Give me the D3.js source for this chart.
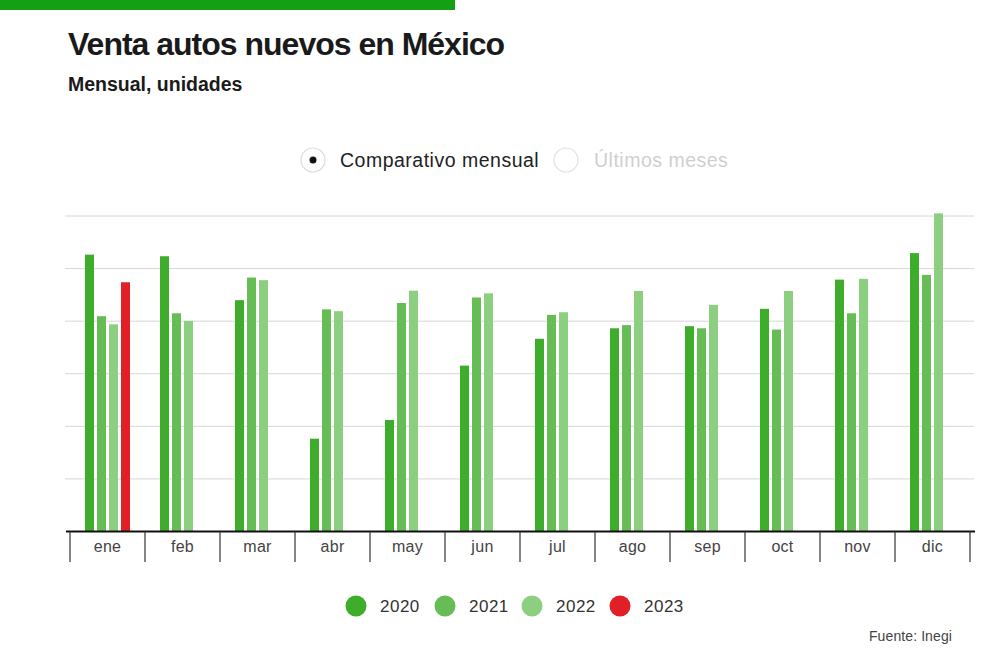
<!DOCTYPE html>
<html>
<head>
<meta charset="utf-8">
<script src="https://cdn.jsdelivr.net/npm/d3@7"></script>
<style>
  body { margin: 0; background: #fff; }
  svg { display: block; font-family: "Liberation Sans", Arial, sans-serif; }
</style>
</head>
<body>
<svg id="chart" width="1000" height="666"></svg>
<script>
'use strict';

// data
const months = ['ene', 'feb', 'mar', 'abr', 'may', 'jun', 'jul', 'ago', 'sep', 'oct', 'nov', 'dic'];
const years = ['2020', '2021', '2022', '2023'];
const sales2020 = [105300, 104700, 88000, 35300, 42400, 63100, 73300, 77300, 78100, 84700, 95800, 105900];
const sales2021 = [81900, 83000, 96600, 84500, 86900, 89000, 82400, 78500, 77300, 76800, 83000, 97600];
const sales2022 = [78800, 80100, 95600, 83800, 91600, 90600, 83400, 91500, 86200, 91500, 96100, 121000];
const sales2023 = [94800];
const gridValues = [0, 20000, 40000, 60000, 80000, 100000, 120000];

const seriesByYear = { '2020': sales2020, '2021': sales2021, '2022': sales2022, '2023': sales2023 };
const colors = { '2020': '#3fad2c', '2021': '#66bd55', '2022': '#8dcf80', '2023': '#e11f27' };

// build flat records
const records = [];
years.forEach(yr => {
    seriesByYear[yr].forEach((v, i) => records.push({ year: yr, month: months[i], value: v }));
});

const svg = d3.select('#chart');

// top green strip
svg.append('rect').attr('x', 0).attr('y', 0).attr('width', 455).attr('height', 10).attr('fill', '#13a113');

// titles
svg.append('text')
    .attr('x', 68).attr('y', 55)
    .attr('font-size', 32).attr('font-weight', 'bold')
    .attr('letter-spacing', -1)
    .attr('fill', '#1a1a1a')
    .text('Venta autos nuevos en México');

svg.append('text')
    .attr('x', 68).attr('y', 91)
    .attr('font-size', 19.5).attr('font-weight', 'bold')
    .attr('letter-spacing', 0)
    .attr('fill', '#1a1a1a')
    .text('Mensual, unidades');

// radio buttons
const radios = svg.append('g');
radios.append('circle').attr('cx', 313).attr('cy', 160).attr('r', 12)
    .attr('fill', '#fff').attr('stroke', '#dcdcdc').attr('stroke-width', 1.2);
radios.append('circle').attr('cx', 313).attr('cy', 160).attr('r', 3.5).attr('fill', '#111');
radios.append('text').attr('x', 340).attr('y', 167)
    .attr('font-size', 19.5).attr('fill', '#222').attr('letter-spacing', 0.5)
    .text('Comparativo mensual');
radios.append('circle').attr('cx', 566).attr('cy', 160).attr('r', 12)
    .attr('fill', '#fff').attr('stroke', '#e2e2e2').attr('stroke-width', 1.2);
radios.append('text').attr('x', 594).attr('y', 167)
    .attr('font-size', 19.5).attr('fill', '#cfcfcf').attr('letter-spacing', 0.5)
    .text('Últimos meses');

// scales
const x0 = d3.scaleBand().domain(months).range([70, 970]).padding(0);
const x1 = d3.scaleBand().domain(years)
    .range([x0.bandwidth() * 0.2, x0.bandwidth() * 0.8])
    .paddingInner(0.25);
const y = d3.scaleLinear().domain([0, 120000]).range([531.5, 216]);

// gridlines
svg.append('g')
    .selectAll('line')
    .data(gridValues.slice(1))
    .enter()
    .append('line')
    .attr('x1', 65).attr('x2', 974)
    .attr('y1', d => y(d)).attr('y2', d => y(d))
    .attr('stroke', '#d6d6d6').attr('stroke-width', 1);

// bars
svg.append('g')
    .selectAll('rect')
    .data(records)
    .enter()
    .append('rect')
    .attr('x', d => x0(d.month) + x1(d.year))
    .attr('y', d => y(d.value))
    .attr('width', x1.bandwidth())
    .attr('height', d => y(0) - y(d.value))
    .attr('fill', d => colors[d.year]);

// axis
const axis = svg.append('g');
axis.append('line')
    .attr('x1', 66).attr('x2', 975)
    .attr('y1', y(0)).attr('y2', y(0))
    .attr('stroke', '#111').attr('stroke-width', 2.2);

const boundaries = months.map(m => x0(m)).concat([x0('dic') + x0.bandwidth()]);
axis.selectAll('line.tick')
    .data(boundaries)
    .enter()
    .append('line')
    .attr('class', 'tick')
    .attr('x1', d => d).attr('x2', d => d)
    .attr('y1', y(0)).attr('y2', 562)
    .attr('stroke', '#333').attr('stroke-width', 1.2);

axis.selectAll('text')
    .data(months)
    .enter()
    .append('text')
    .attr('x', d => x0(d) + x0.bandwidth() / 2)
    .attr('y', 552)
    .attr('text-anchor', 'middle')
    .attr('font-size', 16)
    .attr('letter-spacing', 0.3)
    .attr('fill', '#444')
    .text(d => d);

// legend
const legendX = [356, 445, 532, 620];
const legend = svg.append('g')
    .selectAll('g')
    .data(years)
    .enter()
    .append('g')
    .attr('transform', (d, i) => `translate(${legendX[i]},606)`);
legend.append('circle').attr('r', 10.5).attr('fill', d => colors[d]);
legend.append('text')
    .attr('x', 24).attr('y', 6)
    .attr('font-size', 17).attr('fill', '#333')
    .attr('letter-spacing', 0.5)
    .text(d => d);

// source
svg.append('text')
    .attr('x', 952).attr('y', 641)
    .attr('text-anchor', 'end')
    .attr('font-size', 14).attr('fill', '#444')
    .attr('letter-spacing', 0.1)
    .text('Fuente: Inegi');
</script>
</body>
</html>
